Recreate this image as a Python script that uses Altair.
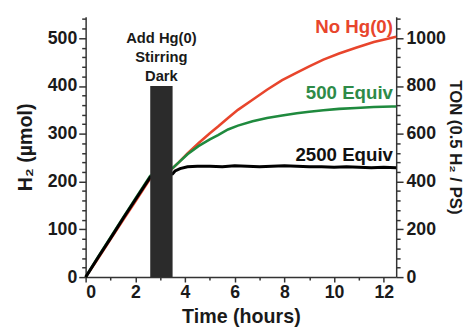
import altair as alt
import pandas as pd

# ---- data ----
red_hours = [0, 0.5, 1, 1.5, 2, 2.6, 3.5, 3.75, 4.1, 4.54, 5.0, 5.33, 5.73, 6.13, 6.72, 7.3, 7.91, 8.5, 9.0, 9.57, 10.2, 10.88, 11.6, 12.33, 12.5]
red_h2 = [0, 39, 79, 119, 158, 206, 228, 240, 259, 280, 301, 315, 333, 350, 371, 392, 412, 428, 441, 455, 468, 480, 492, 501, 503]

green_hours = [0, 0.5, 1, 1.5, 2, 2.6, 3.5, 3.75, 4.1, 4.54, 5.0, 5.33, 5.73, 6.13, 6.72, 7.3, 7.91, 8.5, 9.0, 9.57, 10.2, 10.88, 11.6, 12.33, 12.5]
green_h2 = [0, 42, 83, 124, 164, 212, 228, 240, 257, 274, 288, 297, 309, 317, 326, 333, 338, 343, 346, 349, 352, 354, 356, 357, 357]

black_hours = [0, 0.5, 1, 1.5, 2, 2.6, 3.5, 3.6, 3.8, 4.1, 4.5, 5, 5.5, 6, 6.5, 7, 7.5, 8, 8.5, 9, 9.5, 10, 10.5, 11, 11.5, 12, 12.5]
black_h2 = [0, 41, 81, 122, 162, 209, 216, 222, 227, 231, 232, 232, 231, 233, 232, 231, 232, 233, 232, 231, 231, 230, 231, 230, 229, 230, 229]

bar_start = [2.6]
bar_end = [3.5]
bar_top = [400]
bar_label = ["Add Hg(0)\nStirring\nDark"]

ann_text = ["No Hg(0)", "500 Equiv", "2500 Equiv"]
ann_x = [12.37, 12.37, 12.37]
ann_y = [510, 372, 243]
ann_color = ["#e8452c", "#2e8b48", "#111111"]

x_ticks = list(range(0, 13, 1))
y_ticks = list(range(0, 541, 20))

FONT = "Liberation Sans"
AX = "#333333"

df_red = pd.DataFrame({"hours": red_hours, "h2": red_h2})
df_green = pd.DataFrame({"hours": green_hours, "h2": green_h2})
df_black = pd.DataFrame({"hours": black_hours, "h2": black_h2})
df_bar = pd.DataFrame({"x0": bar_start, "x1": bar_end, "top": bar_top, "label": bar_label})
df_bar["mid"] = (df_bar["x0"] + df_bar["x1"]) / 2
df_ann = pd.DataFrame({"text": ann_text, "hours": ann_x, "h2": ann_y, "c": ann_color})

xscale = alt.Scale(domain=[0, 12.5], nice=False)
yscale = alt.Scale(domain=[0, 545], nice=False)

common = dict(
    domainColor=AX, domainWidth=1.5, tickColor=AX, tickWidth=1.5,
    labelFont=FONT, labelFontSize=18, labelFontWeight="bold", labelColor="#1a1a1a",
    titleFont=FONT, titleFontWeight="bold", titleColor="#1a1a1a",
    grid=False, labelOverlap=False,
)

x_axis = alt.Axis(
    values=x_ticks, labelExpr="datum.value % 2 == 0 ? datum.label : ''",
    tickSize={"condition": {"test": "datum.value % 2 == 0", "value": 5}, "value": 3},
    labelPadding=2, title="Time (hours)", titleFontSize=20, titlePadding=5, **common,
)
left_axis = alt.Axis(
    values=y_ticks, orient="left",
    labelExpr="datum.value % 100 == 0 ? datum.label : ''",
    tickSize={"condition": {"test": "datum.value % 100 == 0", "value": 7}, "value": 4},
    labelPadding=2, title="H₂ (µmol)", titleFontSize=20, titlePadding=12, **common,
)
right_axis = alt.Axis(
    values=y_ticks, orient="right",
    labelExpr="datum.value % 100 == 0 ? format(datum.value * 2, 'd') : ''",
    tickSize={"condition": {"test": "datum.value % 100 == 0", "value": 7}, "value": 4},
    labelPadding=3, title="TON (0.5 H₂ / PS)", titleFontSize=17, titlePadding=0, **common,
)

X = alt.X("hours:Q", scale=xscale, axis=x_axis)

red = alt.Chart(df_red).mark_line(color="#e8452c", strokeWidth=2.6).encode(
    x=X, y=alt.Y("h2:Q", scale=yscale, axis=left_axis))
green = alt.Chart(df_green).mark_line(color="#1f8a3e", strokeWidth=2.6).encode(
    x=X, y=alt.Y("h2:Q", scale=yscale, axis=right_axis))
black = alt.Chart(df_black).mark_line(color="#000000", strokeWidth=3).encode(
    x=X, y=alt.Y("h2:Q", scale=yscale, axis=None))

bar = alt.Chart(df_bar).mark_rect(color="#2b2b2b").encode(
    x=alt.X("x0:Q", scale=xscale, axis=x_axis), x2="x1",
    y=alt.Y("top:Q", scale=yscale, axis=None), y2=alt.datum(0))

bar_text = alt.Chart(df_bar).mark_text(
    font=FONT, fontSize=15, fontWeight="bold", color="#1a1a1a",
    lineBreak="\n", lineHeight=19.5, baseline="alphabetic", align="center", dy=-44,
).encode(
    x=alt.X("mid:Q", scale=xscale, axis=x_axis), y=alt.Y("top:Q", scale=yscale, axis=None),
    text="label:N")

ann = alt.Chart(df_ann).mark_text(
    font=FONT, fontSize=19, fontWeight="bold", align="right", baseline="alphabetic",
).encode(
    x=alt.X("hours:Q", scale=xscale, axis=x_axis), y=alt.Y("h2:Q", scale=yscale, axis=None),
    text="text:N", color=alt.Color("c:N", scale=None, legend=None))

chart = alt.layer(red, green, black, bar, bar_text, ann).resolve_scale(
    y="shared").resolve_axis(y="independent").properties(
    width=316, height=265,
    autosize=alt.AutoSizeParams(type="none"),
    padding={"left": 79, "top": 6, "right": 69, "bottom": 51},
    background="white",
).configure_view(stroke=None)

chart.save("out.html", embed_options={"renderer": "svg", "actions": False})
